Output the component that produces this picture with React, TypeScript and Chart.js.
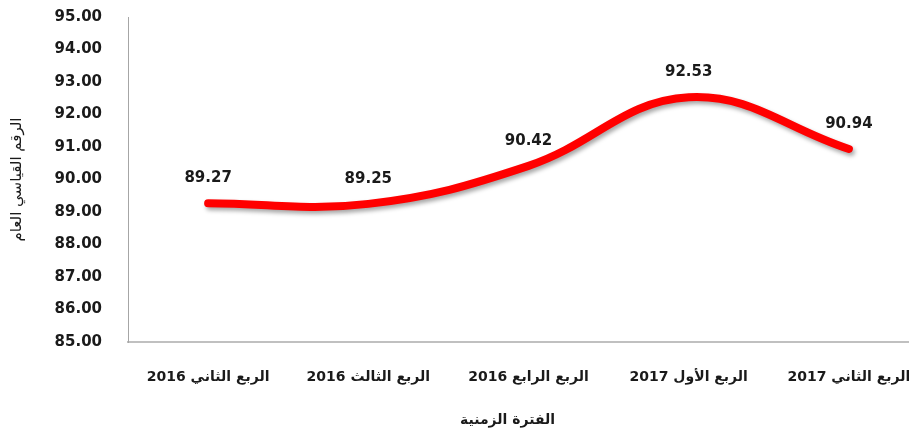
import React, { useEffect, useRef } from "react";
import { Chart, registerables } from "chart.js";

Chart.register(...registerables);

const categories = [
  "الربع الثاني 2016",
  "الربع الثالث 2016",
  "الربع الرابع 2016",
  "الربع الأول 2017",
  "الربع الثاني 2017",
];
const values = [89.27, 89.25, 90.42, 92.53, 90.94];
const yMin = 85;
const yMax = 95;
const yStep = 1;
const yTitle = "الرقم القياسي العام";
const xTitle = "الفترة الزمنية";

const FONT = "'DejaVu Sans', sans-serif";

const shadowPlugin = {
  id: "lineShadow",
  beforeDatasetDraw(chart: any) {
    const ctx = chart.ctx;
    ctx.save();
    ctx.shadowColor = "rgba(0,0,0,0.35)";
    ctx.shadowBlur = 4;
    ctx.shadowOffsetX = 2;
    ctx.shadowOffsetY = 3;
  },
  afterDatasetDraw(chart: any) {
    chart.ctx.restore();
  },
};

const labelsPlugin = {
  id: "valueLabels",
  afterDatasetsDraw(chart: any) {
    const ctx = chart.ctx;
    const meta = chart.getDatasetMeta(0);
    const data = chart.data.datasets[0].data as number[];
    ctx.save();
    ctx.font = `bold 15px ${FONT}`;
    ctx.fillStyle = "#1a1a1a";
    ctx.textAlign = "center";
    ctx.textBaseline = "middle";
    meta.data.forEach((pt: any, i: number) => {
      ctx.fillText(data[i].toFixed(2), pt.x, pt.y - 25);
    });
    ctx.restore();
  },
};

const xTitlePlugin = {
  id: "xTitle",
  afterDraw(chart: any) {
    const ctx = chart.ctx;
    ctx.save();
    ctx.font = `bold 14px ${FONT}`;
    ctx.fillStyle = "#1a1a1a";
    ctx.textAlign = "center";
    ctx.textBaseline = "middle";
    ctx.fillText(xTitle, chart.width * 0.54, chart.chartArea.bottom + 78);
    ctx.restore();
  },
};

export default function App() {
  const ref = useRef<HTMLCanvasElement>(null);

  useEffect(() => {
    if (!ref.current) return;
    const chart = new Chart(ref.current, {
      type: "line",
      data: {
        labels: categories,
        datasets: [
          {
            data: values,
            borderColor: "#ff0000",
            borderWidth: 8,
            borderCapStyle: "round",
            borderJoinStyle: "round",
            pointRadius: 0,
            pointHoverRadius: 0,
            tension: 0.4,
            fill: false,
          },
        ],
      },
      options: {
        animation: false,
        responsive: false,
        maintainAspectRatio: false,
        layout: { padding: { top: 9, right: 4, left: 0, bottom: 0 } },
        plugins: {
          legend: { display: false },
          tooltip: { enabled: false },
        },
        scales: {
          x: {
            type: "category",
            offset: true,
            grid: { display: false },
            border: { display: true, color: "#c0c0c0", width: 2 },
            ticks: {
              color: "#1a1a1a",
              font: { family: FONT, size: 14, weight: "bold" },
              padding: 19,
              maxRotation: 0,
              autoSkip: false,
            },
            afterFit: (s: any) => {
              s.height = 94;
            },
          },
          y: {
            min: yMin,
            max: yMax,
            grid: {
              display: true,
              drawOnChartArea: false,
              drawTicks: true,
              tickLength: 26,
              color: "rgba(0,0,0,0)",
            },
            border: { display: true, color: "#a6a6a6", width: 1 },
            ticks: {
              stepSize: yStep,
              color: "#1a1a1a",
              font: { family: FONT, size: 15, weight: "bold" },
              padding: 0,
              callback: (v: any) => Number(v).toFixed(2),
            },
            title: {
              display: true,
              text: yTitle,
              color: "#1a1a1a",
              font: { family: FONT, size: 15, weight: "normal" },
              padding: { top: 0, bottom: 0 },
            },
            afterFit: (s: any) => {
              s.width = 120;
            },
          },
        },
      },
      plugins: [shadowPlugin, labelsPlugin, xTitlePlugin],
    });
    return () => chart.destroy();
  }, []);

  return (
    <div style={{ width: "909px", height: "428px", overflow: "hidden" }}>
      <div style={{ width: "925px", height: "428px" }}>
        <canvas ref={ref} width={925} height={428} style={{ display: "block" }} />
      </div>
    </div>
  );
}
